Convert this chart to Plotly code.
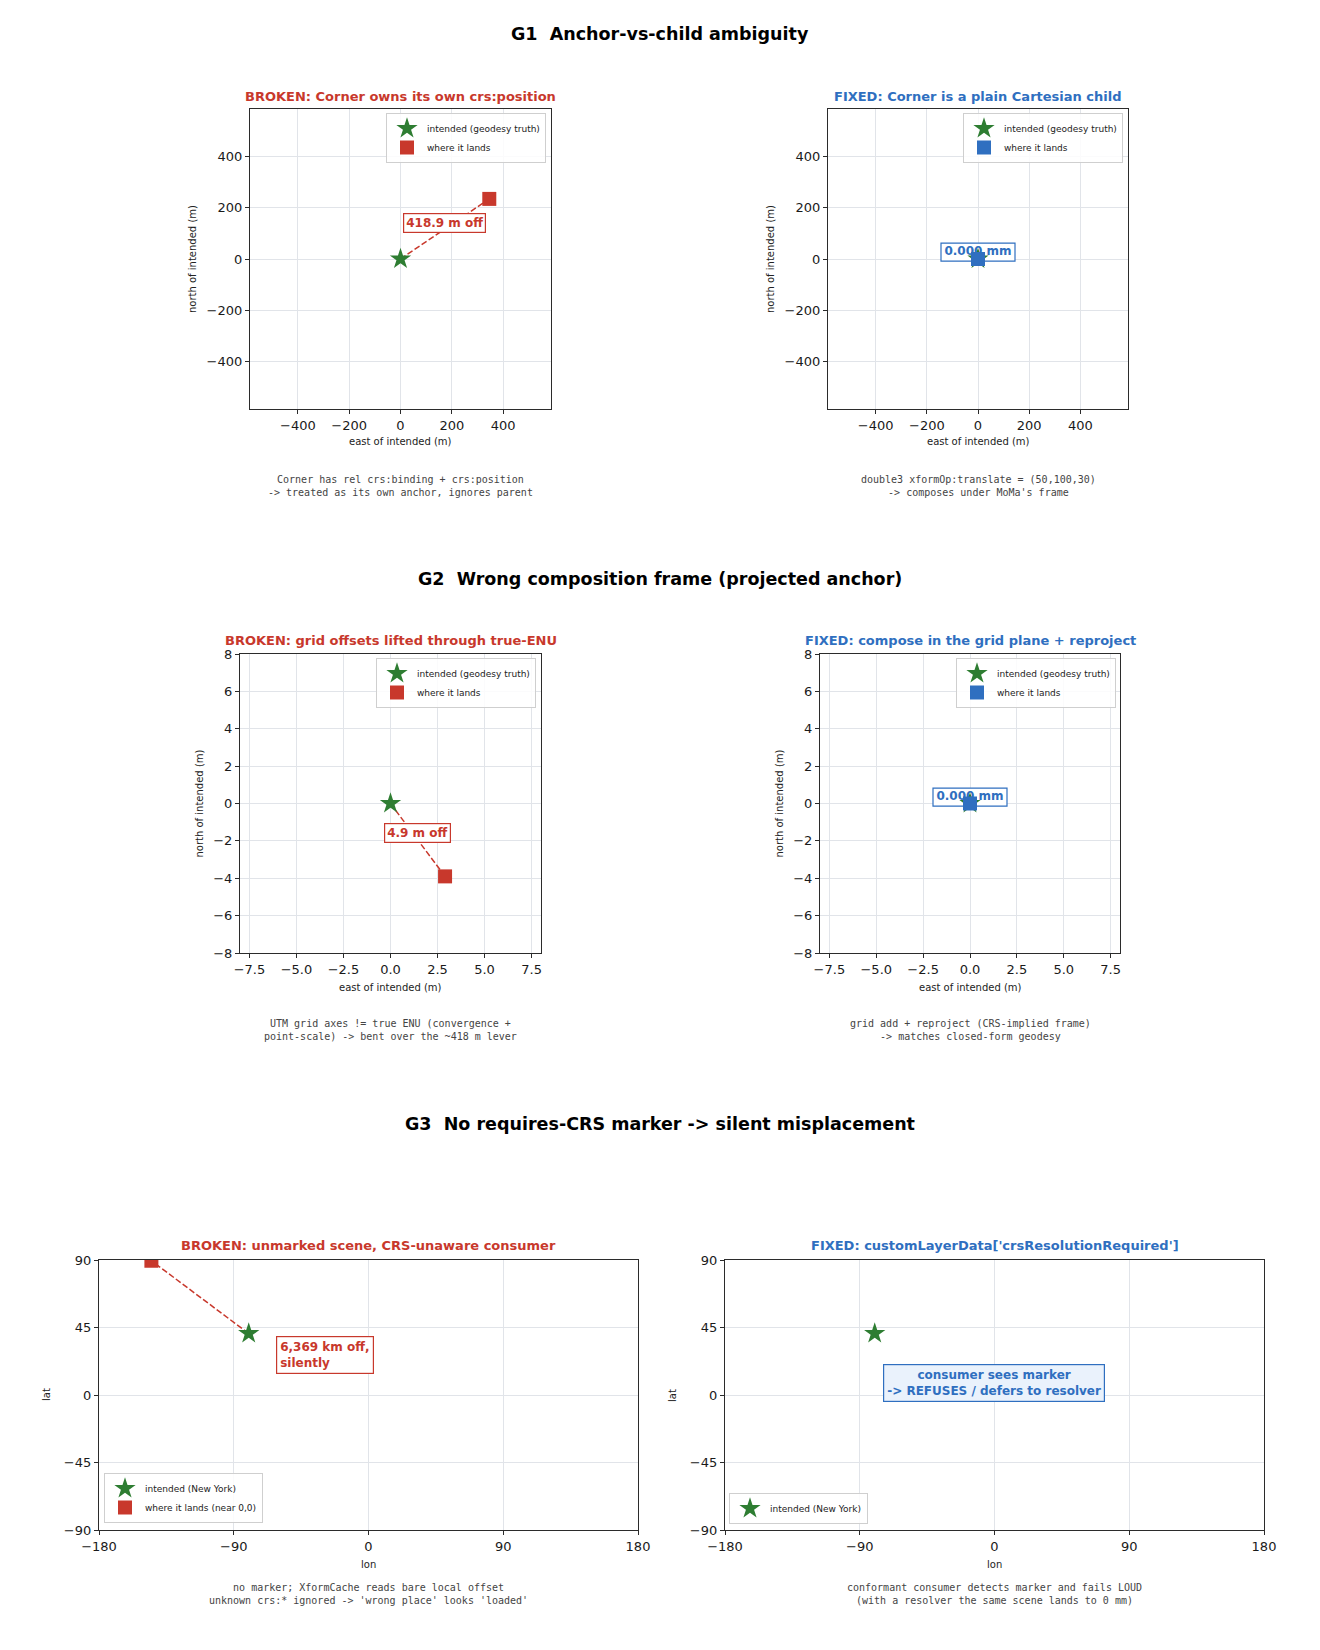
import plotly.graph_objects as go

W, H = 1320, 1650
RED = "#c8382c"
BLUE = "#2f6fc0"
GREEN = "#2e7d32"
GRID = "#e1e4e9"
AXC = "#2b2b2b"
FONT = "DejaVu Sans"
MONO = "DejaVu Sans Mono"

# ---------------- data ----------------
# G1 : east / north of intended (m)
g1_intended = [0.0, 0.0]
g1_broken_lands = [346.0, 235.0]
g1_fixed_lands = [0.0, 0.0]
g1_broken_label = "418.9 m off"
g1_fixed_label = "0.000 mm"
g1_limits = [-586.5, 586.5]
g1_ticks = [-400, -200, 0, 200, 400]

# G2 : east / north of intended (m)
g2_intended = [0.0, 0.0]
g2_broken_lands = [2.9, -3.9]
g2_fixed_lands = [0.0, 0.0]
g2_broken_label = "4.9 m off"
g2_fixed_label = "0.000 mm"
g2_limits = [-8.0, 8.0]
g2_x_ticks = [-7.5, -5.0, -2.5, 0.0, 2.5, 5.0, 7.5]
g2_y_ticks = [-8, -6, -4, -2, 0, 2, 4, 6, 8]

# G3 : lon / lat (deg)
g3_intended = [-80.0, 41.0]
g3_broken_lands = [-145.0, 89.5]
g3_broken_label = "6,369 km off,<br>silently"
g3_fixed_label = "consumer sees marker<br>-> REFUSES / defers to resolver"
g3_lon_limits = [-180, 180]
g3_lat_limits = [-90, 90]
g3_lon_ticks = [-180, -90, 0, 90, 180]
g3_lat_ticks = [-90, -45, 0, 45, 90]

section_titles = [
    "G1 \u00a0Anchor-vs-child ambiguity",
    "G2 \u00a0Wrong composition frame (projected anchor)",
    "G3 \u00a0No requires-CRS marker -> silent misplacement",
]
panel_titles = [
    "BROKEN: Corner owns its own crs:position",
    "FIXED: Corner is a plain Cartesian child",
    "BROKEN: grid offsets lifted through true-ENU",
    "FIXED: compose in the grid plane + reproject",
    "BROKEN: unmarked scene, CRS-unaware consumer",
    "FIXED: customLayerData['crsResolutionRequired']",
]
captions = [
    "Corner has rel crs:binding + crs:position<br>-> treated as its own anchor, ignores parent",
    "double3 xformOp:translate = (50,100,30)<br>-> composes under MoMa's frame",
    "UTM grid axes != true ENU (convergence +<br>point-scale) -> bent over the ~418 m lever",
    "grid add + reproject (CRS-implied frame)<br>-> matches closed-form geodesy",
    "no marker; XformCache reads bare local offset<br>unknown crs:* ignored -> 'wrong place' looks 'loaded'",
    "conformant consumer detects marker and fails LOUD<br>(with a resolver the same scene lands to 0 mm)",
]


def fmt(v, dec=0):
    s = f"{v:.{dec}f}"
    return s.replace("-", "\u2212")


def px(x):
    return x / W


def py(y):
    return 1 - y / H


# panel pixel boxes (left, right, top, bottom)
boxes = [
    (250, 551, 109, 409),
    (828, 1128, 109, 409),
    (240, 541, 654, 953),
    (820, 1120, 654, 953),
    (99, 638, 1260, 1530),
    (725, 1264, 1260, 1530),
]

fig = go.Figure()
layout = dict(
    width=W, height=H,
    margin=dict(l=0, r=0, t=0, b=0, autoexpand=False),
    paper_bgcolor="white", plot_bgcolor="white",
    font=dict(family=FONT, color="#222222"),
    showlegend=True,
)
annotations = []
shapes = []


def add_axes(i, box, xr, yr, xt, xtt, yt, ytt):
    l, r, t, b = box
    xs = "" if i == 1 else str(i)
    common = dict(showgrid=True, gridcolor=GRID, gridwidth=0.8, zeroline=False,
                  showline=True, mirror=True, linecolor=AXC, linewidth=1.2,
                  ticks="outside", ticklen=4, tickwidth=1, tickcolor=AXC,
                  tickfont=dict(family=FONT, size=13, color="#1a1a1a"),
                  automargin=False, fixedrange=True)
    layout["xaxis" + xs] = dict(domain=[px(l), px(r)], range=xr, anchor="y" + xs,
                                tickmode="array", tickvals=xt, ticktext=xtt, **common)
    layout["yaxis" + xs] = dict(domain=[py(b), py(t)], range=yr, anchor="x" + xs,
                                tickmode="array", tickvals=yt, ticktext=ytt, **common)
    return "x" + xs, "y" + xs


def legend_name(i):
    return "legend" if i == 1 else f"legend{i}"


legend_pos = [
    dict(x=px(546), y=py(113), xanchor="right", yanchor="top"),
    dict(x=px(1123), y=py(113), xanchor="right", yanchor="top"),
    dict(x=px(536), y=py(658), xanchor="right", yanchor="top"),
    dict(x=px(1116), y=py(658), xanchor="right", yanchor="top"),
    dict(x=px(104), y=py(1523), xanchor="left", yanchor="bottom"),
    dict(x=px(729), y=py(1524), xanchor="left", yanchor="bottom"),
]
for i, lp in enumerate(legend_pos, start=1):
    layout[legend_name(i)] = dict(bgcolor="rgba(255,255,255,0.85)", bordercolor="#cfcfcf",
                                  borderwidth=1, font=dict(family=FONT, size=9, color="#222222"),
                                  tracegroupgap=0, orientation="v", **lp)

g1_tt = [fmt(v) for v in g1_ticks]
g2_xtt = [fmt(v, 1) for v in g2_x_ticks]
g2_ytt = [fmt(v) for v in g2_y_ticks]
g3_xtt = [fmt(v) for v in g3_lon_ticks]
g3_ytt = [fmt(v) for v in g3_lat_ticks]

axes_ids = []
axes_ids.append(add_axes(1, boxes[0], g1_limits, g1_limits, g1_ticks, g1_tt, g1_ticks, g1_tt))
axes_ids.append(add_axes(2, boxes[1], g1_limits, g1_limits, g1_ticks, g1_tt, g1_ticks, g1_tt))
axes_ids.append(add_axes(3, boxes[2], g2_limits, g2_limits, g2_x_ticks, g2_xtt, g2_y_ticks, g2_ytt))
axes_ids.append(add_axes(4, boxes[3], g2_limits, g2_limits, g2_x_ticks, g2_xtt, g2_y_ticks, g2_ytt))
axes_ids.append(add_axes(5, boxes[4], g3_lon_limits, g3_lat_limits, g3_lon_ticks, g3_xtt, g3_lat_ticks, g3_ytt))
axes_ids.append(add_axes(6, boxes[5], g3_lon_limits, g3_lat_limits, g3_lon_ticks, g3_xtt, g3_lat_ticks, g3_ytt))

STAR = dict(symbol="star", size=16, color=GREEN, line=dict(width=0))


def square(color):
    return dict(symbol="square", size=14, color=color, line=dict(width=0))


def broken_panel(i, intended, lands, star_name, sq_name):
    xa, ya = axes_ids[i - 1]
    fig.add_trace(go.Scatter(x=[intended[0], lands[0]], y=[intended[1], lands[1]], mode="lines",
                             line=dict(color=RED, width=1.5, dash="6px,2.5px"),
                             xaxis=xa, yaxis=ya, showlegend=False, hoverinfo="skip"))
    fig.add_trace(go.Scatter(x=[intended[0]], y=[intended[1]], mode="markers", marker=STAR,
                             name=star_name, xaxis=xa, yaxis=ya, legend=legend_name(i)))
    fig.add_trace(go.Scatter(x=[lands[0]], y=[lands[1]], mode="markers", marker=square(RED),
                             name=sq_name, xaxis=xa, yaxis=ya, legend=legend_name(i)))


def fixed_panel(i, intended, lands, label, label_y):
    xa, ya = axes_ids[i - 1]
    shapes.append(dict(type="rect", xref=xa, yref=ya, layer="between",
                       xsizemode="pixel", xanchor=0, x0=-37, x1=37,
                       ysizemode="pixel", yanchor=label_y, y0=-9, y1=9,
                       line=dict(color=BLUE, width=1.2), fillcolor="white"))
    fig.add_trace(go.Scatter(x=[0], y=[label_y], mode="text", text=[label],
                             textfont=dict(family=FONT, size=12, color=BLUE, weight="bold"),
                             textposition="middle center", xaxis=xa, yaxis=ya,
                             showlegend=False, hoverinfo="skip"))
    fig.add_trace(go.Scatter(x=[intended[0]], y=[intended[1]], mode="markers", marker=STAR,
                             name="intended (geodesy truth)", xaxis=xa, yaxis=ya, legend=legend_name(i)))
    fig.add_trace(go.Scatter(x=[lands[0]], y=[lands[1]], mode="markers", marker=square(BLUE),
                             name="where it lands", xaxis=xa, yaxis=ya, legend=legend_name(i)))


broken_panel(1, g1_intended, g1_broken_lands, "intended (geodesy truth)", "where it lands")
fixed_panel(2, g1_intended, g1_fixed_lands, g1_fixed_label, 27)
broken_panel(3, g2_intended, g2_broken_lands, "intended (geodesy truth)", "where it lands")
fixed_panel(4, g2_intended, g2_fixed_lands, g2_fixed_label, 0.34)
broken_panel(5, g3_intended, g3_broken_lands, "intended (New York)", "where it lands (near 0,0)")
xa6, ya6 = axes_ids[5]
fig.add_trace(go.Scatter(x=[g3_intended[0]], y=[g3_intended[1]], mode="markers", marker=STAR,
                         name="intended (New York)", xaxis=xa6, yaxis=ya6, legend=legend_name(6)))

# in-plot labels
annotations.append(dict(xref="x", yref="y", x=173, y=141, text=f"<b>{g1_broken_label}</b>",
                        showarrow=False, font=dict(family=FONT, size=12, color=RED),
                        bgcolor="white", bordercolor=RED, borderwidth=1.2, borderpad=2))
annotations.append(dict(xref="x3", yref="y3", x=1.45, y=-1.6, text=f"<b>{g2_broken_label}</b>",
                        showarrow=False, font=dict(family=FONT, size=12, color=RED),
                        bgcolor="white", bordercolor=RED, borderwidth=1.2, borderpad=2))
annotations.append(dict(xref="x5", yref="y5", x=-62, y=39.5, text=f"<b>{g3_broken_label}</b>",
                        xanchor="left", yanchor="top", align="left", showarrow=False,
                        font=dict(family=FONT, size=12, color=RED),
                        bgcolor="white", bordercolor=RED, borderwidth=1.2, borderpad=3))
annotations.append(dict(xref="x6", yref="y6", x=0, y=8, text=f"<b>{g3_fixed_label}</b>",
                        align="center", showarrow=False,
                        font=dict(family=FONT, size=12, color=BLUE),
                        bgcolor="#eaf2fc", bordercolor=BLUE, borderwidth=1.2, borderpad=3))

# section titles
for t, yc in zip(section_titles, [34, 579, 1124]):
    annotations.append(dict(xref="paper", yref="paper", x=0.5, y=py(yc), xanchor="center",
                            yanchor="middle", text=f"<b>{t}</b>", showarrow=False,
                            font=dict(family=FONT, size=17.5, color="black")))

# panel titles, axis titles, captions
title_y = [96, 96, 641, 641, 1245, 1245]
xlabel_y = [442, 442, 987, 987, 1564, 1564]
ylabel_x = [192, 770, 199, 779, 46, 672]
caption_y = [486, 486, 1030, 1030, 1594, 1594]
xlabels = ["east of intended (m)"] * 4 + ["lon"] * 2
ylabels = ["north of intended (m)"] * 4 + ["lat"] * 2
for k, (l, r, t, b) in enumerate(boxes):
    cx = (l + r) / 2
    cy = (t + b) / 2
    col = RED if k % 2 == 0 else BLUE
    annotations.append(dict(xref="paper", yref="paper", x=px(cx), y=py(title_y[k]),
                            xanchor="center", yanchor="middle",
                            text=f"<b>{panel_titles[k]}</b>", showarrow=False,
                            font=dict(family=FONT, size=13, color=col)))
    annotations.append(dict(xref="paper", yref="paper", x=px(cx), y=py(xlabel_y[k]),
                            xanchor="center", yanchor="middle",
                            text=xlabels[k], showarrow=False,
                            font=dict(family=FONT, size=10, color="#222222")))
    annotations.append(dict(xref="paper", yref="paper", x=px(ylabel_x[k]), y=py(cy),
                            xanchor="center", yanchor="middle", textangle=-90,
                            text=ylabels[k], showarrow=False,
                            font=dict(family=FONT, size=10, color="#222222")))
    annotations.append(dict(xref="paper", yref="paper", x=px(cx), y=py(caption_y[k]),
                            xanchor="center", yanchor="middle",
                            text=captions[k], showarrow=False, align="center",
                            font=dict(family=MONO, size=10, color="#444444")))

layout["annotations"] = annotations
layout["shapes"] = shapes
fig.update_layout(**layout)
fig.write_html("out.html")
